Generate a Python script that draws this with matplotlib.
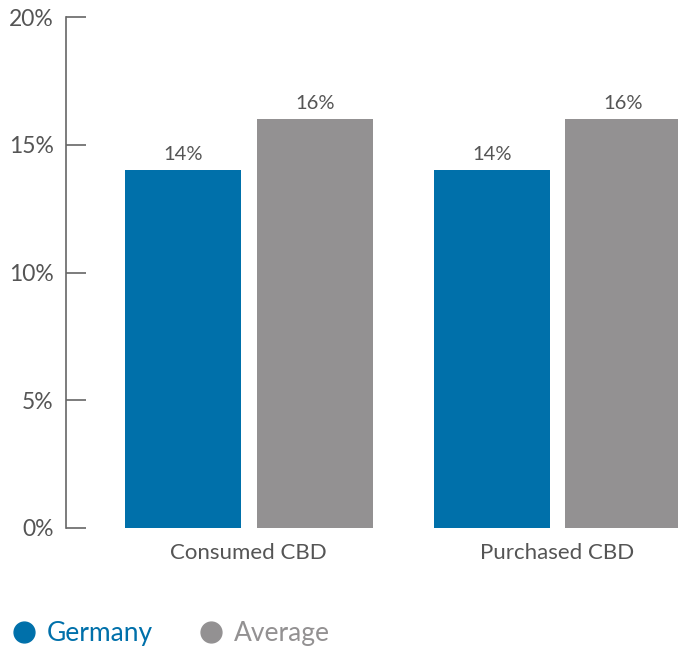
import numpy as np
import matplotlib.pyplot as plt
from matplotlib.lines import Line2D

categories = ["Consumed CBD", "Purchased CBD"]
germany = [14, 14]
average = [16, 16]
series_names = ["Germany", "Average"]
yticks = [0, 5, 10, 15, 20]

blue = "#0070AA"
grey = "#939192"
txt = "#555555"

plt.rcParams['font.family'] = ['Lato', 'DejaVu Sans']

fig = plt.figure(figsize=(6.78, 6.5), dpi=100)
ax = fig.add_axes([66 / 678, 122 / 650, 1 - 66 / 678, (633 - 122) / 650])

x = np.arange(len(categories))
w = 0.376
b1 = ax.bar(x - 0.212, germany, w, color=blue)
b2 = ax.bar(x + 0.214, average, w, color=grey)
for bars in (b1, b2):
    ax.bar_label(bars, labels=[f"{v}%" for v in bars.datavalues], padding=5,
                 fontsize=14.5, color=txt)

ax.set_xlim(-0.592, 1.392)
ax.set_ylim(0, 20)
ax.set_yticks(yticks)
ax.set_yticklabels([f"{t}%" for t in yticks], fontsize=16.5, color=txt)
ax.tick_params(axis='y', direction='in', length=14.5, width=1.2, color="#666666", pad=9)
ax.set_xticks(x)
ax.set_xticklabels(categories, fontsize=16, color=txt)
ax.tick_params(axis='x', length=0, pad=11)
for s in ["top", "right", "bottom"]:
    ax.spines[s].set_visible(False)
ax.spines["left"].set_color("#666666")
ax.spines["left"].set_linewidth(1.2)

handles = [Line2D([], [], marker='o', linestyle='', markersize=15, color=c) for c in (blue, grey)]
leg = fig.legend(handles, series_names, loc='lower left', bbox_to_anchor=(0.0, -0.01),
                 ncol=2, frameon=False, fontsize=19, handlelength=1.0, handletextpad=0.38,
                 columnspacing=1.7, borderaxespad=0)
for t, c in zip(leg.get_texts(), (blue, grey)):
    t.set_color(c)

fig.savefig("out.png", dpi=100)
